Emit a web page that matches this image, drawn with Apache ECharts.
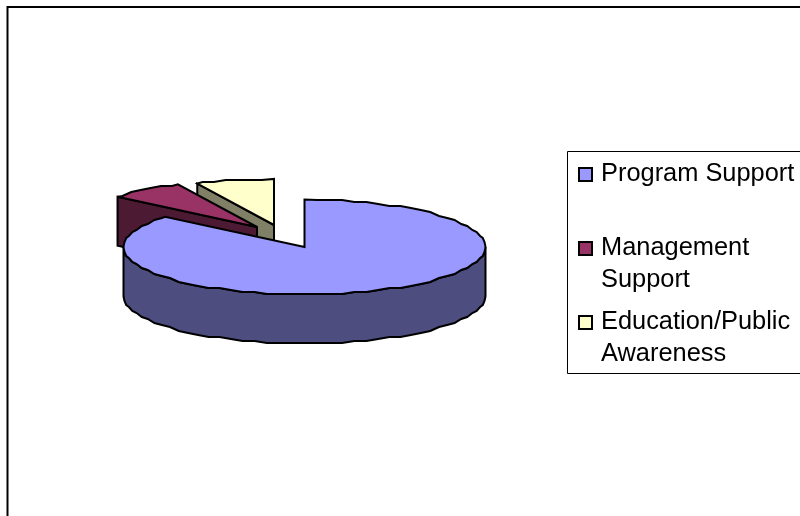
<!DOCTYPE html>
<html>
<head>
<meta charset="utf-8">
<style>
  html, body { margin: 0; padding: 0; background: #fff; }
  #chart { width: 800px; height: 516px; }
</style>
<script src="https://cdn.jsdelivr.net/npm/echarts@6/dist/echarts.min.js"></script>
</head>
<body>
<div id="chart"></div>
<script>
// Slices run clockwise from 12 o'clock
const categories = ["Program Support", "Management Support", "Education/Public Awareness"];
const shares = [86, 6.8, 7.2];
const legendLines = [["Program Support"], ["Management", "Support"], ["Education/Public", "Awareness"]];
const topColors = ["#9999ff", "#993366", "#ffffcc"];
const sideColors = ["#4d4d80", "#4d1a33", "#808066"];

// Pie look: squashed ellipse plus extrusion, exploded slices sit at their own apex
const RX = 181;
const RY = 47.5;
const DEPTH = 49;
const ARC_STEP = 4;
const apexes = [[304.5, 247], [257, 227], [274, 225]];
const radiusScale = [1, 1, 0.97];
const total = shares.reduce((a, b) => a + b, 0);

function rim(i, deg) {
  const r = deg * Math.PI / 180;
  const s = radiusScale[i];
  return [apexes[i][0] + s * RX * Math.sin(r), apexes[i][1] - s * RY * Math.cos(r)];
}

// Rim samples sit on a fixed angle grid and snap to whole pixels, which gives
// the slightly stepped outline of the original
function arc(i, from, to) {
  const pts = [rim(i, from)];
  for (let d = Math.ceil(from / ARC_STEP + 0.01) * ARC_STEP; d < to; d += ARC_STEP) {
    const p = rim(i, d);
    pts.push([p[0], Math.round(p[1] / 2) * 2]);
  }
  pts.push(rim(i, to));
  return pts;
}

const down = (p) => [p[0], p[1] + DEPTH];
const edge = { stroke: "#000", lineWidth: 2, lineJoin: "miter", miterLimit: 4 };

function renderSlice(params, api) {
  const i = params.dataIndex;
  let start = 0;
  for (let k = 0; k < i; k++) start += shares[k];
  const from = start / total * 360;
  const to = from + api.value(0) / total * 360;
  const apex = apexes[i];
  const base = (2 - i) * 2;

  let sidePts;
  if (i === 0) {
    // big slice shows its outer wall along the front half of the ellipse
    const front = arc(i, 90, 270);
    sidePts = front.concat(front.slice().reverse().map(down));
  } else {
    // small slices show the cut face on their left side
    const p = rim(i, from);
    sidePts = [apex, p, down(p), down(apex)];
  }
  return {
    type: "group",
    children: [
      { type: "polygon", z2: base + 1, shape: { points: sidePts }, style: { fill: sideColors[i], ...edge } },
      { type: "polygon", z2: base + 2, shape: { points: [apex].concat(arc(i, from, to)) }, style: { fill: topColors[i], ...edge } }
    ]
  };
}

// Legend box keeps the marker beside the first text line, so it is laid out by hand
const legendTop = [172, 246, 320];
const LINE_H = 32;
const legendGraphic = [
  { type: "rect", shape: { x: 567.5, y: 151.5, width: 240, height: 222 }, style: { fill: "#fff", stroke: "#000", lineWidth: 1 } }
];
legendLines.forEach((lines, i) => {
  legendGraphic.push({
    type: "rect",
    shape: { x: 579, y: legendTop[i] - 4, width: 13, height: 13 },
    style: { fill: topColors[i], stroke: "#000", lineWidth: 2 }
  });
  lines.forEach((line, j) => {
    legendGraphic.push({
      type: "text",
      x: 601,
      y: legendTop[i] + 2 + j * LINE_H,
      style: { text: line, fill: "#000", font: "25.4px 'Liberation Sans', Arial, sans-serif", textVerticalAlign: "middle" }
    });
  });
});

const chart = echarts.init(document.getElementById("chart"), null, { renderer: "canvas" });
chart.setOption({
  backgroundColor: "#fff",
  animation: false,
  graphic: [
    { type: "polyline", shape: { points: [[7.5, 516], [7.5, 7], [800, 7]] }, style: { fill: null, stroke: "#000", lineWidth: 2 } }
  ].concat(legendGraphic),
  series: [
    {
      type: "custom",
      coordinateSystem: "none",
      silent: true,
      renderItem: renderSlice,
      data: categories.map((name, i) => ({ name, value: [shares[i]] }))
    }
  ]
});
</script>
</body>
</html>
